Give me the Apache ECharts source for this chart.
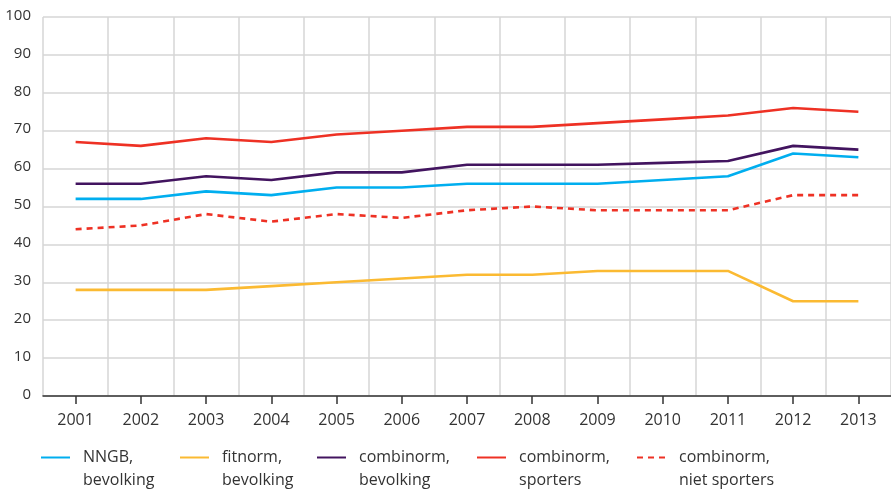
<!DOCTYPE html>
<html>
<head>
<meta charset="utf-8">
<script src="https://cdn.jsdelivr.net/npm/echarts@6/dist/echarts.min.js"></script>
<style>
html,body{margin:0;padding:0;background:#fff;}
#main{width:891px;height:491px;}
</style>
</head>
<body>
<div id="main"></div>
<script>
const years = ['2001','2002','2003','2004','2005','2006','2007','2008','2009','2010','2011','2012','2013'];
const nngbBevolking = [52, 52, 54, 53, 55, 55, 56, 56, 56, 57, 58, 64, 63];
const fitnormBevolking = [28, 28, 28, 29, 30, 31, 32, 32, 33, 33, 33, 25, 25];
const combinormBevolking = [56, 56, 58, 57, 59, 59, 61, 61, 61, 61.5, 62, 66, 65];
const combinormSporters = [67, 66, 68, 67, 69, 70, 71, 71, 72, 73, 74, 76, 75];
const combinormNietSporters = [44, 45, 48, 46, 48, 47, 49, 50, 49, 49, 49, 53, 53];

const names = ['NNGB,\nbevolking', 'fitnorm,\nbevolking', 'combinorm,\nbevolking', 'combinorm,\nsporters', 'combinorm,\nniet sporters'];
const colors = ['#00aeef', '#fbba32', '#42145f', '#ee3124', '#ee3124'];
const dataSets = [nngbBevolking, fitnormBevolking, combinormBevolking, combinormSporters, combinormNietSporters];
const legendLefts = [40, 179, 316, 476, 636];

const font = '"Open Sans", sans-serif';
const chart = echarts.init(document.getElementById('main'));

const series = names.map((n, i) => ({
  name: n,
  type: 'line',
  data: dataSets[i],
  symbol: 'none',
  color: colors[i],
  lineStyle: { width: 2.6, color: colors[i], type: i === 4 ? [6, 5] : 'solid' },
  animation: false
}));

const legends = names.map((n, i) => ({
  data: [n],
  left: legendLefts[i],
  top: 423,
  padding: 0,
  itemWidth: 29,
  itemHeight: 14,
  selectedMode: false,
  itemStyle: { opacity: 0 },
  formatter: name => '\n' + name,
  textStyle: { fontFamily: font, fontSize: 16, color: '#333', lineHeight: 23, padding: [0, 0, 0, 8] }
}));

chart.setOption({
  animation: false,
  legend: legends,
  grid: { left: 43, right: -2, top: 17, bottom: 95, containLabel: false },
  xAxis: {
    type: 'category',
    data: years,
    boundaryGap: true,
    axisLine: { show: true, lineStyle: { color: '#333', width: 1.5 } },
    axisTick: { show: true, alignWithLabel: true, length: 8, lineStyle: { color: '#333', width: 1.5 } },
    axisLabel: { fontFamily: font, fontSize: 16, color: '#333', margin: 16 },
    splitLine: { show: true, lineStyle: { color: '#d6d6d6', width: 1.5 } }
  },
  yAxis: {
    type: 'value',
    min: 0, max: 100, interval: 10,
    axisLine: { show: false },
    axisTick: { show: false },
    axisLabel: { fontFamily: font, fontSize: 15, color: '#333', margin: 12, verticalAlign: 'bottom', padding: [0,0,-6,0] },
    splitLine: { show: true, lineStyle: { color: '#d6d6d6', width: 1.5 } }
  },
  series: series
});
</script>
</body>
</html>
